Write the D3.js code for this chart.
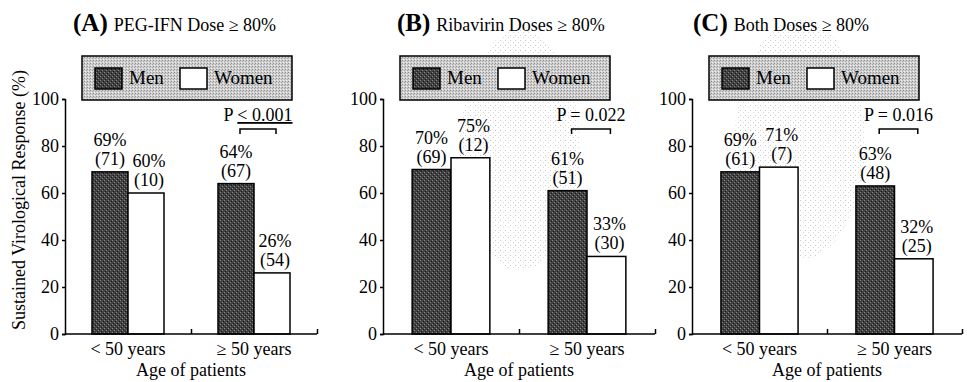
<!DOCTYPE html>
<html>
<head>
  <meta charset="utf-8">
  <title>Sustained virological response by sex and age</title>
  <script src="https://cdnjs.cloudflare.com/ajax/libs/d3/7.8.5/d3.min.js"></script>
  <style>
    body { margin: 0; background: #fff; }
    svg text { font-family: "Liberation Serif", "DejaVu Serif", serif; fill: #000; }
    .axis path, .axis line { stroke: #000; stroke-width: 1.5; }
    .axis text { font-size: 18px; font-family: "Liberation Serif", serif; }
  </style>
</head>
<body>
<div id="chart"></div>
<script>
// data
var panelLetters = ["A", "B", "C"];
var panelTitles = ["PEG-IFN Dose \u2265 80%", "Ribavirin Doses \u2265 80%", "Both Doses \u2265 80%"];
var ageGroups = ["< 50 years", "\u2265 50 years"];
var sexes = ["Men", "Women"];
var menSVR = [[69, 64], [70, 61], [69, 63]];
var womenSVR = [[60, 26], [75, 33], [71, 32]];
var menN = [[71, 67], [69, 51], [61, 48]];
var womenN = [[10, 54], [12, 30], [7, 25]];
var pValues = [["P ", "< 0.001"], ["P = 0.022", ""], ["P = 0.016", ""]];
var yTicks = [0, 20, 40, 60, 80, 100];

// layout of the three panels (pixels)
var frames = [
  {x0: 65, x1: 317, titleX: 73},
  {x0: 383, x1: 655, titleX: 397},
  {x0: 692, x1: 962, titleX: 693}
];
var plotTop = 99, plotBottom = 334;

var svg = d3.select("#chart").append("svg")
    .attr("width", 967)
    .attr("height", 382);

// stipple textures like the printed figure
var defs = svg.append("defs");
var dark = defs.append("pattern").attr("id", "darkDots")
    .attr("width", 4).attr("height", 4).attr("patternUnits", "userSpaceOnUse");
dark.append("rect").attr("width", 4).attr("height", 4).attr("fill", "#424242");
dark.append("rect").attr("x", 0).attr("y", 0).attr("width", 1).attr("height", 1).attr("fill", "#858585");
dark.append("rect").attr("x", 2).attr("y", 2).attr("width", 1).attr("height", 1).attr("fill", "#858585");
dark.append("rect").attr("x", 1).attr("y", 3).attr("width", 1).attr("height", 1).attr("fill", "#1a1a1a");
dark.append("rect").attr("x", 3).attr("y", 1).attr("width", 1).attr("height", 1).attr("fill", "#1a1a1a");

var light = defs.append("pattern").attr("id", "lightDots")
    .attr("width", 3).attr("height", 3).attr("patternUnits", "userSpaceOnUse");
light.append("rect").attr("width", 3).attr("height", 3).attr("fill", "#cfcfcf");
light.append("rect").attr("x", 0).attr("y", 0).attr("width", 1).attr("height", 1).attr("fill", "#8f8f8f");
light.append("rect").attr("x", 2).attr("y", 1).attr("width", 1).attr("height", 1).attr("fill", "#a5a5a5");
light.append("rect").attr("x", 1).attr("y", 2).attr("width", 1).attr("height", 1).attr("fill", "#f0f0f0");

// faint scan speckle seen behind panels B and C
var speck = defs.append("pattern").attr("id", "speckle")
    .attr("width", 5).attr("height", 5).attr("patternUnits", "userSpaceOnUse");
speck.append("rect").attr("x", 0).attr("y", 0).attr("width", 1).attr("height", 1).attr("fill", "#c8c8c8");
speck.append("rect").attr("x", 3).attr("y", 2).attr("width", 1).attr("height", 1).attr("fill", "#d8d8d8");
svg.append("ellipse").attr("cx", 520).attr("cy", 150).attr("rx", 60).attr("ry", 120)
    .attr("fill", "url(#speckle)");
svg.append("ellipse").attr("cx", 800).attr("cy", 140).attr("rx", 65).attr("ry", 120)
    .attr("fill", "url(#speckle)");

var fills = {Men: "url(#darkDots)", Women: "#fff"};

var y = d3.scaleLinear().domain([0, 100]).range([plotBottom, plotTop]);

// y axis title (shared, left of panel A)
svg.append("text")
    .attr("transform", "translate(25,200) rotate(-90)")
    .attr("text-anchor", "middle")
    .style("font-size", "18px")
    .text("Sustained Virological Response (%)");

panelLetters.forEach(function (letter, i) {
  var f = frames[i];
  var g = svg.append("g");

  var x = d3.scaleBand().domain(ageGroups).range([f.x0, f.x1]);
  var xSex = d3.scaleBand().domain(sexes).range([0, x.bandwidth()])
      .paddingInner(0).paddingOuter(0.75);

  // title
  var t = g.append("text").attr("x", f.titleX).attr("y", 31);
  t.append("tspan").style("font-size", "25px").style("font-weight", "bold").text("(" + letter + ")");
  t.append("tspan").attr("dx", 6).style("font-size", "18px").text(panelTitles[i]);

  // legend
  var lx = f.x0 + 17;
  g.append("rect").attr("x", lx).attr("y", 56).attr("width", 210).attr("height", 44)
      .attr("fill", "url(#lightDots)").attr("stroke", "#000").attr("stroke-width", 1.5);
  var legendX = [13, 98];
  sexes.forEach(function (s, k) {
    g.append("rect").attr("x", lx + legendX[k]).attr("y", 68).attr("width", 27).attr("height", 21)
        .attr("fill", fills[s]).attr("stroke", "#000").attr("stroke-width", 1.5);
    g.append("text").attr("x", lx + legendX[k] + 34).attr("y", 84)
        .style("font-size", "19px").text(s);
  });

  // bars
  var rows = [];
  ageGroups.forEach(function (a, j) {
    rows.push({age: a, sex: "Men", v: menSVR[i][j], n: menN[i][j]});
    rows.push({age: a, sex: "Women", v: womenSVR[i][j], n: womenN[i][j]});
  });

  g.selectAll("rect.bar").data(rows).enter().append("rect")
      .attr("class", "bar")
      .attr("x", function (d) { return x(d.age) + xSex(d.sex); })
      .attr("y", function (d) { return y(d.v); })
      .attr("width", xSex.bandwidth())
      .attr("height", function (d) { return y(0) - y(d.v); })
      .attr("fill", function (d) { return fills[d.sex]; })
      .attr("stroke", "#000").attr("stroke-width", 1.5);

  var cx = function (d) {
    return x(d.age) + xSex(d.sex) + xSex.bandwidth() / 2 + (d.sex === "Women" ? 3 : 0);
  };
  g.selectAll("text.pct").data(rows).enter().append("text")
      .attr("class", "pct")
      .attr("x", cx)
      .attr("y", function (d) { return y(d.v) - 26; })
      .attr("text-anchor", "middle").style("font-size", "18px")
      .text(function (d) { return d.v + "%"; });
  g.selectAll("text.cnt").data(rows).enter().append("text")
      .attr("class", "cnt")
      .attr("x", cx)
      .attr("y", function (d) { return y(d.v) - 7; })
      .attr("text-anchor", "middle").style("font-size", "18px")
      .text(function (d) { return "(" + d.n + ")"; });

  // P value bracket over the >= 50 group
  var bx0 = x(ageGroups[1]) + xSex("Men") + xSex.bandwidth() / 2 + 4;
  var bx1 = x(ageGroups[1]) + xSex("Women") + xSex.bandwidth() / 2 + 4;
  g.append("path")
      .attr("d", "M" + bx0 + ",134V129H" + bx1 + "V134")
      .attr("fill", "none").attr("stroke", "#000").attr("stroke-width", 1.5);
  var p = g.append("text").attr("x", (bx0 + bx1) / 2).attr("y", 121)
      .attr("text-anchor", "middle").style("font-size", "18px");
  p.append("tspan").text(pValues[i][0]);
  if (pValues[i][1]) p.append("tspan").style("text-decoration", "underline").text(pValues[i][1]);

  // axes
  g.append("g").attr("class", "axis")
      .attr("transform", "translate(" + f.x0 + ",0)")
      .call(d3.axisLeft(y).tickValues(yTicks).tickSize(3).tickPadding(3));

  g.append("g").attr("class", "axis")
      .attr("transform", "translate(0," + plotBottom + ")")
      .call(d3.axisBottom(x).tickSize(0).tickPadding(8))
      .call(function (s) { s.select(".domain").attr("d", "M" + f.x0 + ",0H" + f.x1); });

  // small inward ticks between and after the groups
  var edge = d3.scaleLinear().domain([0, 2]).range([f.x0, f.x1]);
  g.append("g").attr("class", "axis")
      .attr("transform", "translate(0," + plotBottom + ")")
      .call(d3.axisBottom(edge).tickValues([1, 2]).tickSize(-5).tickFormat(""))
      .call(function (s) { s.select(".domain").remove(); });

  g.append("text")
      .attr("x", (f.x0 + f.x1) / 2).attr("y", 376)
      .attr("text-anchor", "middle").style("font-size", "18px")
      .text("Age of patients");
});
</script>
</body>
</html>
